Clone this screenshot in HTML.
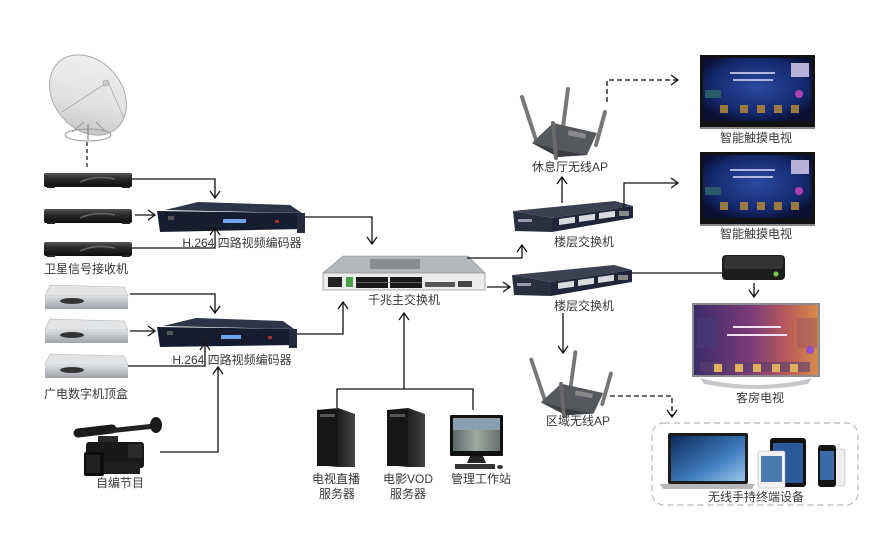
<!DOCTYPE html>
<html><head><meta charset="utf-8"><style>
html,body{margin:0;padding:0;background:#fff;}
svg{display:block;}
text{font-family:"Liberation Sans","Noto Sans CJK SC",sans-serif;font-size:12px;fill:#383838;text-anchor:middle;}
</style></head><body>
<svg width="890" height="548" viewBox="0 0 890 548" xmlns="http://www.w3.org/2000/svg">
<defs>
<linearGradient id="dish" x1="0" y1="0" x2="1" y2="1"><stop offset="0" stop-color="#f4f4f4"/><stop offset="0.6" stop-color="#e0e0e0"/><stop offset="1" stop-color="#b8b8b8"/></linearGradient>
<linearGradient id="rcv" x1="0" y1="0" x2="0" y2="1"><stop offset="0" stop-color="#555"/><stop offset="0.4" stop-color="#2a2a2a"/><stop offset="1" stop-color="#0d0d0d"/></linearGradient>
<linearGradient id="stb" x1="0" y1="0" x2="0" y2="1"><stop offset="0" stop-color="#dcdfe2"/><stop offset="1" stop-color="#9ea3a8"/></linearGradient>
<radialGradient id="tvscr" cx="0.5" cy="0.45" r="0.6"><stop offset="0" stop-color="#2a4aa0"/><stop offset="0.7" stop-color="#142a70"/><stop offset="1" stop-color="#0a1034"/></radialGradient>
<linearGradient id="guest" x1="0" y1="0" x2="1" y2="0"><stop offset="0" stop-color="#3a2c68"/><stop offset="0.45" stop-color="#7a3a78"/><stop offset="0.75" stop-color="#b85a5a"/><stop offset="1" stop-color="#d98a4a"/></linearGradient>
<linearGradient id="mac" x1="0" y1="0" x2="1" y2="1"><stop offset="0" stop-color="#0e2a5a"/><stop offset="0.6" stop-color="#3f7cc0"/><stop offset="1" stop-color="#9ac8e8"/></linearGradient>
<linearGradient id="srv" x1="0" y1="0" x2="1" y2="0"><stop offset="0" stop-color="#111"/><stop offset="0.6" stop-color="#222"/><stop offset="1" stop-color="#444"/></linearGradient>
<linearGradient id="mon" x1="0" y1="0" x2="1" y2="0"><stop offset="0" stop-color="#5a6a6a"/><stop offset="0.5" stop-color="#a0a8a0"/><stop offset="1" stop-color="#6a7070"/></linearGradient>
</defs>

<!-- Satellite dish -->
<g>
<ellipse cx="88" cy="95" rx="44" ry="34" transform="rotate(50 88 95)" fill="url(#dish)" stroke="#aaa" stroke-width="1"/>
<line x1="62" y1="112" x2="108" y2="82" stroke="#aaa" stroke-width="1"/>
<line x1="108" y1="82" x2="124" y2="118" stroke="#aaa" stroke-width="0.8"/>
<circle cx="106" cy="83" r="3" fill="#ccc" stroke="#999" stroke-width="0.6"/>
<ellipse cx="88" cy="135" rx="23" ry="6" fill="none" stroke="#999" stroke-width="1"/>
<line x1="72" y1="132" x2="84" y2="122" stroke="#999" stroke-width="1"/>
<line x1="106" y1="132" x2="96" y2="122" stroke="#999" stroke-width="1"/>
<line x1="88" y1="124" x2="88" y2="140" stroke="#888" stroke-width="1.2"/>
</g>
<line x1="87" y1="142" x2="87" y2="169" stroke="#222" stroke-width="1.3" stroke-dasharray="4,3"/>

<!-- Satellite receivers -->
<g>
<rect x="44" y="173" width="88" height="14" rx="2" fill="url(#rcv)"/>
<path d="M80 182 Q95 175 115 179" stroke="#666" stroke-width="1.5" fill="none"/>
<rect x="47" y="186" width="8" height="2" fill="#222"/><rect x="122" y="186" width="8" height="2" fill="#222"/>
<rect x="44" y="209" width="88" height="14" rx="2" fill="url(#rcv)"/>
<path d="M80 218 Q95 211 115 215" stroke="#666" stroke-width="1.5" fill="none"/>
<rect x="47" y="222" width="8" height="2" fill="#222"/><rect x="122" y="222" width="8" height="2" fill="#222"/>
<rect x="44" y="242" width="88" height="14" rx="2" fill="url(#rcv)"/>
<path d="M80 251 Q95 244 115 248" stroke="#666" stroke-width="1.5" fill="none"/>
<rect x="47" y="255" width="8" height="2" fill="#222"/><rect x="122" y="255" width="8" height="2" fill="#222"/>
</g>
<text x="86" y="273">卫星信号接收机</text>

<!-- Silver STBs -->
<g>
<polygon points="50,285 124,287 128,296 45,296" fill="#e2e4e6" stroke="#b0b4b8" stroke-width="0.6"/>
<rect x="45" y="296" width="83" height="13" fill="url(#stb)"/>
<ellipse cx="72" cy="301" rx="12" ry="3" fill="#333"/>
<polygon points="50,319 124,321 128,330 45,330" fill="#e2e4e6" stroke="#b0b4b8" stroke-width="0.6"/>
<rect x="45" y="330" width="83" height="13" fill="url(#stb)"/>
<ellipse cx="72" cy="335" rx="12" ry="3" fill="#333"/>
<polygon points="50,354 124,356 128,365 45,365" fill="#e2e4e6" stroke="#b0b4b8" stroke-width="0.6"/>
<rect x="45" y="365" width="83" height="13" fill="url(#stb)"/>
<ellipse cx="72" cy="370" rx="12" ry="3" fill="#333"/>
</g>
<text x="86" y="398">广电数字机顶盒</text>

<!-- Camera -->
<g>
<line x1="78" y1="433" x2="112" y2="429" stroke="#1a1a1a" stroke-width="9" stroke-linecap="round"/>
<line x1="108" y1="431" x2="155" y2="426" stroke="#222" stroke-width="5" stroke-linecap="round"/>
<ellipse cx="156" cy="425" rx="6" ry="8" fill="#1a1a1a"/>
<rect x="98" y="436" width="20" height="8" fill="#2a2a2a"/>
<rect x="86" y="442" width="58" height="26" rx="3" fill="#181818"/>
<rect x="84" y="452" width="20" height="24" rx="2" fill="#0c0c0c"/>
<rect x="86" y="455" width="14" height="18" fill="#222"/>
<rect x="104" y="462" width="36" height="12" fill="#1e1e1e"/>
<rect x="128" y="444" width="14" height="14" fill="#2a2a2a"/>
</g>
<text x="120" y="487">自编节目</text>

<!-- Encoders -->
<g>
<polygon points="165,210 198,202 290,205 302,213" fill="#2c3448"/>
<polygon points="157,211 302,213 302,229 160,232" fill="#161d2e"/>
<rect x="297" y="213" width="8" height="20" fill="#222a3c"/>
<rect x="223" y="219" width="23" height="4" fill="#6ea6ec"/>
<rect x="168" y="216" width="6" height="4" fill="#555"/>
<rect x="275" y="220" width="4" height="3" fill="#a03030"/>
</g>
<text x="242" y="247">H.264 四路视频编码器</text>
<g>
<polygon points="163,326 196,318 283,321 294,329" fill="#2c3448"/>
<polygon points="157,327 294,329 294,345 160,347" fill="#161d2e"/>
<rect x="289" y="329" width="8" height="19" fill="#222a3c"/>
<rect x="221" y="335" width="20" height="4" fill="#6ea6ec"/>
<rect x="167" y="331" width="6" height="4" fill="#555"/>
<rect x="268" y="336" width="4" height="3" fill="#a03030"/>
</g>
<text x="232" y="364">H.264 四路视频编码器</text>

<!-- Main switch -->
<g>
<polygon points="343,256 468,256 485,273 323,273" fill="#b4b8bc" stroke="#8a8e92" stroke-width="0.6"/>
<rect x="370" y="259" width="50" height="10" fill="#8a8e92"/>
<rect x="323" y="273" width="162" height="17" fill="#ececec" stroke="#999" stroke-width="0.8"/>
<rect x="328" y="277" width="14" height="10" fill="#222"/>
<rect x="346" y="277" width="7" height="10" fill="#4aa04a"/>
<rect x="356" y="277" width="32" height="11" fill="#1a1a1a"/>
<rect x="390" y="277" width="32" height="11" fill="#1a1a1a"/>
<line x1="356" y1="282.5" x2="422" y2="282.5" stroke="#777" stroke-width="0.7"/>
<rect x="425" y="282" width="30" height="5" fill="#555"/>
<rect x="458" y="281" width="14" height="6" fill="#444"/>
</g>
<text x="404" y="304">千兆主交换机</text>

<!-- Servers -->
<g>
<polygon points="317,410 338,408 355,414 355,467 338,467 317,465" fill="url(#srv)"/>
<rect x="317" y="410" width="21" height="56" fill="#161616"/>
<rect x="320" y="414" width="15" height="3" fill="#555"/>
<polygon points="387,410 408,408 425,414 425,467 408,467 387,465" fill="url(#srv)"/>
<rect x="387" y="410" width="21" height="56" fill="#161616"/>
<rect x="390" y="414" width="15" height="3" fill="#555"/>
</g>
<!-- Monitor -->
<g>
<rect x="450" y="415" width="53" height="41" rx="1" fill="#111"/>
<rect x="453" y="418" width="47" height="33" fill="url(#mon)"/>
<rect x="453" y="418" width="47" height="12" fill="#8aa0b0"/>
<polygon points="470,456 483,456 486,463 467,463" fill="#222"/>
<rect x="455" y="464" width="40" height="5" fill="#333"/>
<ellipse cx="500" cy="467" rx="3" ry="2" fill="#333"/>
</g>
<text x="336" y="483">电视直播</text>
<text x="337" y="498">服务器</text>
<text x="408" y="483">电影VOD</text>
<text x="408" y="498">服务器</text>
<text x="481" y="483">管理工作站</text>

<!-- AP1 -->
<g>
<g stroke="#777" stroke-width="4" stroke-linecap="round">
<line x1="536" y1="140" x2="522" y2="97"/>
<line x1="563" y1="127" x2="568" y2="89"/>
<line x1="596" y1="145" x2="605" y2="112"/>
</g>
<polygon points="532,143 553,123 597,133 587,155 558,157" fill="#55585c"/>
<polygon points="532,143 558,150 587,155 558,157" fill="#3a3c40"/>
<rect x="568" y="132" width="18" height="5" fill="#888" transform="rotate(12 577 134)"/>
<line x1="556" y1="158" x2="553" y2="123" stroke="#6a6a6a" stroke-width="4" stroke-linecap="round"/>
</g>
<text x="570" y="171">休息厅无线AP</text>

<!-- AP2 -->
<g transform="translate(9 260) scale(0.96 0.93) translate(22 10)">
<g stroke="#777" stroke-width="4" stroke-linecap="round">
<line x1="536" y1="140" x2="522" y2="97"/>
<line x1="563" y1="127" x2="568" y2="89"/>
<line x1="596" y1="145" x2="605" y2="112"/>
</g>
<polygon points="532,143 553,123 597,133 587,155 558,157" fill="#55585c"/>
<polygon points="532,143 558,150 587,155 558,157" fill="#3a3c40"/>
<rect x="568" y="132" width="18" height="5" fill="#888" transform="rotate(12 577 134)"/>
<line x1="556" y1="158" x2="553" y2="123" stroke="#6a6a6a" stroke-width="4" stroke-linecap="round"/>
</g>
<text x="578" y="425">区域无线AP</text>

<!-- Floor switches -->
<g>
<polygon points="513,211 615,201 633,206 552,218" fill="#3c4152"/>
<polygon points="513,211 552,218 552,232 515,231" fill="#2a2f40"/>
<polygon points="552,218 633,206 633,218 552,232" fill="#20253a"/>
<g fill="#d8dae0"><rect x="559" y="219" width="16" height="6" transform="skewY(-8)" transform-origin="559 219"/><rect x="579" y="216" width="16" height="6" transform="skewY(-8)" transform-origin="579 216"/><rect x="599" y="213" width="16" height="6" transform="skewY(-8)" transform-origin="599 213"/><rect x="619" y="211" width="10" height="5" fill="#888"/></g>
<rect x="518" y="219" width="14" height="3" fill="#99a"/>
</g>
<text x="584" y="246">楼层交换机</text>
<g>
<polygon points="512,275 614,265 632,270 551,282" fill="#3c4152"/>
<polygon points="512,275 551,282 551,296 514,295" fill="#2a2f40"/>
<polygon points="551,282 632,270 632,282 551,296" fill="#20253a"/>
<g fill="#d8dae0"><rect x="558" y="283" width="16" height="6" transform="skewY(-8)" transform-origin="558 283"/><rect x="578" y="280" width="16" height="6" transform="skewY(-8)" transform-origin="578 280"/><rect x="598" y="277" width="16" height="6" transform="skewY(-8)" transform-origin="598 277"/><rect x="618" y="275" width="10" height="5" fill="#888"/></g>
<rect x="517" y="283" width="14" height="3" fill="#99a"/>
</g>
<text x="584" y="310">楼层交换机</text>

<!-- Smart TVs -->
<g>
<rect x="700" y="55" width="115" height="72" fill="#121212"/>
<rect x="703" y="58" width="109" height="63" fill="url(#tvscr)"/>
<rect x="791" y="63" width="18" height="14" fill="#b8b0d8"/>
<rect x="730" y="72" width="45" height="2" fill="#b0b8e0"/>
<rect x="733" y="79" width="40" height="2" fill="#b0b8e0"/>
<rect x="705" y="90" width="16" height="8" fill="#2a5a6a"/>
<circle cx="799" cy="94" r="4" fill="#b040b0"/>
<g fill="#9a7a40"><rect x="720" y="105" width="8" height="8"/><rect x="740" y="105" width="8" height="8"/><rect x="757" y="105" width="8" height="8"/><rect x="774" y="105" width="8" height="8"/><rect x="791" y="105" width="8" height="8"/></g>
<rect x="700" y="127" width="115" height="2" fill="#888"/>
</g>
<text x="756" y="142">智能触摸电视</text>
<g>
<rect x="700" y="152" width="115" height="72" fill="#121212"/>
<rect x="703" y="155" width="109" height="63" fill="url(#tvscr)"/>
<rect x="791" y="160" width="18" height="14" fill="#b8b0d8"/>
<rect x="730" y="169" width="45" height="2" fill="#b0b8e0"/>
<rect x="733" y="176" width="40" height="2" fill="#b0b8e0"/>
<rect x="705" y="187" width="16" height="8" fill="#2a5a6a"/>
<circle cx="799" cy="191" r="4" fill="#b040b0"/>
<g fill="#9a7a40"><rect x="720" y="202" width="8" height="8"/><rect x="740" y="202" width="8" height="8"/><rect x="757" y="202" width="8" height="8"/><rect x="774" y="202" width="8" height="8"/><rect x="791" y="202" width="8" height="8"/></g>
<rect x="700" y="224" width="115" height="2" fill="#888"/>
</g>
<text x="756" y="238">智能触摸电视</text>

<!-- STB box -->
<g>
<rect x="722" y="255" width="63" height="25" rx="4" fill="#1c1c1c"/>
<rect x="724" y="256" width="59" height="13" rx="3" fill="#333"/>
<circle cx="776" cy="274" r="2.5" fill="#7ad040"/>
</g>

<!-- Guest TV -->
<g>
<rect x="692" y="303" width="128" height="74" fill="#8a8a90"/>
<rect x="694" y="305" width="124" height="70" fill="url(#guest)"/>
<rect x="733" y="326" width="48" height="2" fill="#f0e0f0"/>
<rect x="727" y="334" width="60" height="2" fill="#f0e0f0"/>
<rect x="697" y="318" width="20" height="30" fill="#4a3a7a" opacity="0.6"/>
<rect x="797" y="318" width="20" height="30" fill="#a05a5a" opacity="0.6"/>
<circle cx="810" cy="350" r="4" fill="#9050d0"/>
<rect x="700" y="362" width="110" height="10" fill="#5a4070" opacity="0.6"/>
<g fill="#e0b060"><rect x="714" y="364" width="8" height="8"/><rect x="735" y="364" width="8" height="8"/><rect x="753" y="364" width="8" height="8"/><rect x="772" y="364" width="8" height="8"/><rect x="790" y="364" width="8" height="8"/></g>
<path d="M700 378 Q756 392 812 378 L808 384 Q756 394 704 384 Z" fill="#c8c8cc"/>
</g>
<text x="760" y="402">客房电视</text>

<!-- Handheld devices box -->
<rect x="652" y="423" width="206" height="82" rx="12" fill="none" stroke="#b8b8b8" stroke-width="1.2" stroke-dasharray="6,4"/>
<g>
<rect x="668" y="433" width="80" height="51" rx="2" fill="#1c1c1c"/>
<rect x="671" y="436" width="74" height="45" fill="url(#mac)"/>
<polygon points="660,484 755,484 752,489 663,489" fill="#b8b8b8"/>
<rect x="770" y="438" width="36" height="49" rx="3" fill="#111"/>
<rect x="773" y="443" width="30" height="40" fill="#2a5a9a"/>
<rect x="758" y="451" width="27" height="37" rx="2" fill="#f2f2f2" stroke="#bbb" stroke-width="0.6"/>
<rect x="761" y="456" width="21" height="26" fill="#4a7ab0"/>
<rect x="830" y="449" width="15" height="37" rx="2" fill="#eee" stroke="#bbb" stroke-width="0.6"/>
<rect x="818" y="445" width="18" height="42" rx="3" fill="#151515"/>
<rect x="820" y="451" width="14" height="29" fill="#3a6aa8"/>
</g>
<text x="756" y="501">无线手持终端设备</text>

<!-- Connectors -->
<g fill="none" stroke="#111" stroke-width="1.3">
<polyline points="132,179 215,179 215,198"/><polyline points="210,191 215,198 220,191"/>
<line x1="135" y1="215" x2="155" y2="215"/><polyline points="148,210 155,215 148,220"/>
<polyline points="132,248 215,248 215,228"/><polyline points="210,235 215,228 220,235"/>
<polyline points="305,217 372,217 372,244"/><polyline points="367,237 372,244 377,237"/>
<polyline points="130,294 215,294 215,313"/><polyline points="210,306 215,313 220,306"/>
<line x1="130" y1="331" x2="155" y2="331"/><polyline points="148,326 155,331 148,336"/>
<polyline points="128,366 205,366 205,343"/><polyline points="200,350 205,343 210,350"/>
<polyline points="160,452 218,452 218,367"/><polyline points="213,374 218,367 223,374"/>
<polyline points="297,334 343,334 343,302"/><polyline points="338,309 343,302 348,309"/>
<polyline points="337,408 337,389 473,389 473,410"/>
<line x1="404" y1="389" x2="404" y2="313"/><polyline points="399,320 404,313 409,320"/>
<polyline points="467,258 522,258 522,245"/><polyline points="517,252 522,245 527,252"/>
<line x1="487" y1="287" x2="510" y2="287"/><polyline points="503,282 510,287 503,292"/>
<line x1="562" y1="203" x2="562" y2="177"/><polyline points="557,184 562,177 567,184"/>
<polyline points="607,102 607,80 678,80" stroke-dasharray="5,3"/><polyline points="671,75 678,80 671,85"/>
<polyline points="624,208 624,183 678,183"/><polyline points="671,178 678,183 671,188"/>
<line x1="632" y1="273" x2="722" y2="273"/>
<line x1="754" y1="283" x2="754" y2="297"/><polyline points="749,290 754,297 759,290"/>
<line x1="563" y1="313" x2="563" y2="353"/><polyline points="558,346 563,353 568,346"/>
<polyline points="610,396 672,396 672,417" stroke-dasharray="5,3"/><polyline points="667,410 672,417 677,410"/>
</g>
</svg>
</body></html>
